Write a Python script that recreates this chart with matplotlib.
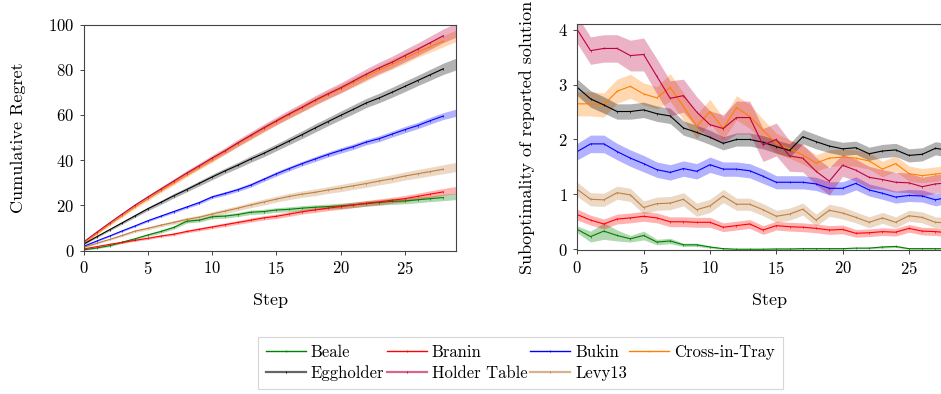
import numpy as np
import matplotlib
matplotlib.use("Agg")
import matplotlib.pyplot as plt
from matplotlib.lines import Line2D

plt.rcParams['font.family'] = ['cmr10', 'DejaVu Serif']
plt.rcParams['mathtext.fontset'] = 'cm'
plt.rcParams['axes.unicode_minus'] = False
plt.rcParams['axes.formatter.use_mathtext'] = True

steps = list(range(30))
series_names = ["Beale", "Branin", "Bukin", "Cross-in-Tray", "Eggholder", "Holder Table", "Levy13"]
series_colors = ["#008000", "#ff0000", "#0000ff", "#ff8000", "#000000", "#bf0040", "#bf8040"]

# ---- Cumulative regret (left) ----
regret_beale = [0.4, 1.2, 2.2, 3.8, 5.3, 7.0, 8.5, 10.3, 13.0, 13.5, 15.0, 15.3, 16.0, 17.0, 17.3, 18.0, 18.3, 18.8, 19.2, 19.5, 19.8, 20.3, 20.8, 21.3, 21.8, 22.0, 22.5, 23.0, 23.5, 24.0]
regret_branin = [0.8, 1.8, 2.8, 3.7, 4.6, 5.5, 6.5, 7.3, 8.5, 9.5, 10.5, 11.5, 12.5, 13.5, 14.5, 15.2, 16.2, 17.2, 18.0, 18.8, 19.5, 20.2, 21.0, 21.6, 22.3, 23.0, 24.0, 25.0, 26.0, 26.8]
regret_bukin = [2.0, 4.3, 6.5, 8.8, 11.0, 13.3, 15.3, 17.3, 19.3, 21.3, 23.8, 25.3, 27.0, 29.0, 31.5, 34.0, 36.3, 38.5, 40.5, 42.5, 44.3, 46.0, 48.0, 49.5, 51.5, 53.5, 55.3, 57.5, 59.5, 61.0]
regret_cross = [3.2, 7.5, 11.6, 15.5, 19.4, 23.0, 26.6, 30.0, 33.6, 37.0, 40.3, 43.8, 47.2, 50.5, 53.8, 57.0, 60.0, 63.0, 66.0, 68.8, 71.5, 74.3, 77.0, 79.8, 82.4, 85.0, 87.8, 90.2, 92.6, 95.0]
regret_egg = [3.0, 6.2, 9.3, 12.4, 15.5, 18.6, 21.4, 24.3, 27.0, 29.8, 32.6, 35.3, 37.8, 40.5, 43.0, 45.7, 48.5, 51.3, 54.2, 57.0, 59.8, 62.5, 65.3, 67.5, 70.0, 72.6, 75.2, 77.8, 80.4, 82.5]
regret_holder = [4.0, 8.2, 12.3, 16.3, 20.2, 23.8, 27.3, 30.8, 34.3, 37.6, 41.0, 44.2, 47.7, 51.0, 54.3, 57.4, 60.5, 63.4, 66.5, 69.3, 72.0, 75.0, 78.0, 80.8, 83.3, 86.2, 89.0, 92.0, 95.0, 97.5]
regret_levy = [1.5, 3.3, 5.0, 6.8, 8.7, 9.9, 11.3, 12.5, 13.8, 14.8, 16.2, 17.5, 18.8, 20.2, 21.5, 22.8, 24.0, 25.0, 25.8, 26.8, 27.7, 28.7, 29.7, 30.8, 31.8, 33.0, 34.0, 35.0, 36.0, 37.0]

regret_std_beale = [0.2, 0.3, 0.4, 0.5, 0.5, 0.6, 0.7, 0.7, 0.8, 0.8, 0.9, 0.9, 0.9, 1.0, 1.0, 1.0, 1.1, 1.1, 1.1, 1.1, 1.2, 1.2, 1.2, 1.2, 1.3, 1.3, 1.3, 1.3, 1.4, 1.4]
regret_std_branin = [0.2, 0.3, 0.3, 0.4, 0.4, 0.5, 0.5, 0.6, 0.6, 0.7, 0.7, 0.8, 0.8, 0.9, 0.9, 1.0, 1.0, 1.0, 1.1, 1.1, 1.2, 1.2, 1.2, 1.3, 1.3, 1.4, 1.4, 1.5, 1.5, 1.6]
regret_std_bukin = [0.2, 0.3, 0.3, 0.4, 0.4, 0.5, 0.5, 0.6, 0.6, 0.7, 0.7, 0.8, 0.8, 0.9, 0.9, 1.0, 1.0, 1.0, 1.1, 1.1, 1.2, 1.2, 1.2, 1.3, 1.3, 1.4, 1.4, 1.5, 1.5, 1.6]
regret_std_cross = [0.3, 0.4, 0.5, 0.6, 0.7, 0.8, 0.9, 1.0, 1.0, 1.1, 1.2, 1.2, 1.3, 1.4, 1.5, 1.5, 1.6, 1.7, 1.8, 1.8, 1.9, 2.0, 2.0, 2.1, 2.2, 2.3, 2.3, 2.4, 2.5, 2.6]
regret_std_egg = [0.3, 0.4, 0.5, 0.6, 0.7, 0.8, 0.9, 1.0, 1.0, 1.1, 1.2, 1.2, 1.3, 1.4, 1.5, 1.5, 1.6, 1.7, 1.8, 1.8, 1.9, 2.0, 2.0, 2.1, 2.2, 2.3, 2.3, 2.4, 2.5, 2.6]
regret_std_holder = [0.3, 0.4, 0.5, 0.6, 0.7, 0.8, 0.9, 1.0, 1.1, 1.2, 1.3, 1.4, 1.5, 1.6, 1.6, 1.7, 1.8, 1.9, 2.0, 2.1, 2.2, 2.3, 2.4, 2.5, 2.6, 2.7, 2.8, 2.9, 3.0, 3.1]
regret_std_levy = [0.2, 0.3, 0.4, 0.5, 0.6, 0.7, 0.7, 0.8, 0.9, 0.9, 1.0, 1.1, 1.1, 1.2, 1.3, 1.3, 1.4, 1.4, 1.5, 1.5, 1.6, 1.6, 1.7, 1.7, 1.8, 1.8, 1.9, 1.9, 2.0, 2.0]

# ---- Suboptimality of reported solution (right) ----
subopt_beale = [0.36, 0.23, 0.33, 0.25, 0.19, 0.25, 0.13, 0.15, 0.08, 0.08, 0.04, 0.01, 0.0, 0.0, 0.0, 0.005, 0.005, 0.01, 0.01, 0.01, 0.01, 0.02, 0.02, 0.04, 0.05, 0.01, 0.01, 0.01, 0.01, 0.01]
subopt_branin = [0.63, 0.53, 0.46, 0.55, 0.57, 0.6, 0.57, 0.5, 0.5, 0.49, 0.49, 0.4, 0.43, 0.46, 0.35, 0.43, 0.41, 0.4, 0.38, 0.35, 0.36, 0.29, 0.3, 0.32, 0.31, 0.38, 0.33, 0.32, 0.3, 0.3]
subopt_bukin = [1.78, 1.92, 1.92, 1.78, 1.66, 1.56, 1.45, 1.40, 1.47, 1.42, 1.54, 1.46, 1.46, 1.43, 1.33, 1.22, 1.22, 1.22, 1.19, 1.11, 1.11, 1.2, 1.08, 1.02, 0.95, 0.98, 0.97, 0.9, 0.95, 0.95]
subopt_cross = [2.65, 2.65, 2.63, 2.88, 2.97, 2.83, 2.76, 2.95, 2.6, 2.24, 2.51, 2.2, 2.58, 2.42, 2.17, 1.93, 1.83, 1.72, 1.57, 1.66, 1.68, 1.66, 1.61, 1.46, 1.56, 1.38, 1.34, 1.37, 1.4, 1.4]
subopt_egg = [2.95, 2.74, 2.63, 2.51, 2.51, 2.54, 2.47, 2.43, 2.21, 2.13, 2.04, 1.93, 2.0, 2.0, 1.95, 1.87, 1.8, 2.05, 1.96, 1.88, 1.83, 1.85, 1.74, 1.79, 1.81, 1.71, 1.73, 1.84, 1.8, 1.8]
subopt_holder = [4.0, 3.62, 3.66, 3.66, 3.53, 3.55, 3.15, 2.75, 2.80, 2.50, 2.27, 2.20, 2.40, 2.40, 1.90, 2.00, 1.70, 1.66, 1.42, 1.24, 1.53, 1.44, 1.31, 1.27, 1.22, 1.21, 1.14, 1.19, 1.21, 1.2]
subopt_levy = [1.09, 0.91, 0.9, 1.03, 0.99, 0.76, 0.83, 0.84, 0.91, 0.72, 0.79, 0.97, 0.82, 0.82, 0.72, 0.6, 0.64, 0.73, 0.53, 0.71, 0.66, 0.58, 0.49, 0.57, 0.49, 0.61, 0.58, 0.49, 0.48, 0.48]

subopt_std_beale = [0.06, 0.1, 0.15, 0.1, 0.06, 0.08, 0.05, 0.05, 0.03, 0.03, 0.02, 0.01, 0.01, 0.01, 0.01, 0.01, 0.01, 0.01, 0.01, 0.01, 0.01, 0.01, 0.01, 0.02, 0.02, 0.01, 0.01, 0.01, 0.01, 0.01]
subopt_std_branin = [0.1, 0.09, 0.09, 0.09, 0.09, 0.09, 0.09, 0.09, 0.09, 0.09, 0.09, 0.08, 0.08, 0.08, 0.08, 0.08, 0.08, 0.08, 0.08, 0.08, 0.08, 0.07, 0.07, 0.07, 0.07, 0.07, 0.07, 0.07, 0.07, 0.07]
subopt_std_bukin = [0.15, 0.16, 0.16, 0.15, 0.15, 0.15, 0.14, 0.14, 0.14, 0.14, 0.14, 0.13, 0.13, 0.13, 0.13, 0.12, 0.12, 0.12, 0.12, 0.12, 0.12, 0.12, 0.11, 0.11, 0.11, 0.11, 0.11, 0.11, 0.11, 0.11]
subopt_std_cross = [0.22, 0.22, 0.22, 0.22, 0.22, 0.2, 0.2, 0.25, 0.25, 0.22, 0.22, 0.2, 0.22, 0.22, 0.2, 0.18, 0.17, 0.17, 0.15, 0.15, 0.15, 0.15, 0.15, 0.14, 0.14, 0.14, 0.13, 0.13, 0.13, 0.13]
subopt_std_egg = [0.15, 0.15, 0.15, 0.14, 0.14, 0.14, 0.14, 0.14, 0.13, 0.13, 0.13, 0.12, 0.12, 0.12, 0.12, 0.12, 0.12, 0.13, 0.13, 0.12, 0.12, 0.12, 0.12, 0.12, 0.12, 0.12, 0.12, 0.12, 0.12, 0.12]
subopt_std_holder = [0.25, 0.25, 0.25, 0.25, 0.28, 0.3, 0.32, 0.32, 0.3, 0.28, 0.25, 0.25, 0.3, 0.3, 0.3, 0.3, 0.28, 0.25, 0.25, 0.25, 0.2, 0.2, 0.2, 0.18, 0.18, 0.18, 0.17, 0.17, 0.17, 0.17]
subopt_std_levy = [0.13, 0.12, 0.12, 0.12, 0.12, 0.12, 0.12, 0.12, 0.12, 0.12, 0.12, 0.12, 0.11, 0.11, 0.11, 0.11, 0.11, 0.11, 0.11, 0.11, 0.11, 0.1, 0.1, 0.1, 0.1, 0.1, 0.1, 0.1, 0.1, 0.1]

regret_means = [regret_beale, regret_branin, regret_bukin, regret_cross, regret_egg, regret_holder, regret_levy]
regret_stds = [regret_std_beale, regret_std_branin, regret_std_bukin, regret_std_cross, regret_std_egg, regret_std_holder, regret_std_levy]
subopt_means = [subopt_beale, subopt_branin, subopt_bukin, subopt_cross, subopt_egg, subopt_holder, subopt_levy]
subopt_stds = [subopt_std_beale, subopt_std_branin, subopt_std_bukin, subopt_std_cross, subopt_std_egg, subopt_std_holder, subopt_std_levy]

W, H = 941, 394
fig = plt.figure(figsize=(W / 100, H / 100), dpi=100)

def px_axes(l, t, r, b):
    return fig.add_axes([l / W, 1 - b / H, (r - l) / W, (b - t) / H])

ax1 = px_axes(84, 24.5, 456, 250.7)
ax2 = px_axes(577.3, 24.3, 962, 250.3)

def draw(ax, means, stds):
    x = np.array(steps)
    for m, s, c in zip(means, stds, series_colors):
        m = np.array(m); s = np.array(s)
        ax.fill_between(x, m - s, m + s, color=c, alpha=0.3, lw=0)
    for m, c in zip(means, series_colors):
        ax.plot(x[:-1], np.array(m)[:-1], color=c, lw=0.8, marker='|', ms=1.5, mew=0.5)

draw(ax1, regret_means, regret_stds)
draw(ax2, subopt_means, subopt_stds)

for ax in (ax1, ax2):
    ax.set_xlim(0, 29)
    ax.set_xticks([0, 5, 10, 15, 20, 25])
    for sp in ax.spines.values():
        sp.set_color('#444444')
        sp.set_linewidth(0.8)
    ax.tick_params(direction='out', length=3, width=0.7, color='#444444',
                   labelsize=12, pad=4, top=False, right=False)
    ax.set_xlabel("Step", fontsize=13, labelpad=11)

ax1.set_ylim(0, 100)
ax1.set_yticks([0, 20, 40, 60, 80, 100])
ax1.set_ylabel("Cumulative Regret", fontsize=13, labelpad=16)

ax2.set_ylim(-0.02, 4.1)
ax2.set_yticks([0, 1, 2, 3, 4])
ax2.set_ylabel("Suboptimality of reported solution", fontsize=13, labelpad=16)

handles = []
for i, c in enumerate(series_colors):
    if i >= 4:
        thick = Line2D([], [], color=c, lw=1.6, alpha=0.6)
        mark = Line2D([], [], color=c, lw=0, marker='|', ms=1.5, mew=0.6)
        handles.append((thick, mark))
    else:
        handles.append(Line2D([], [], color=c, lw=1.0, marker='|', ms=1.5, mew=0.5))

# matplotlib fills legend columns first; reorder so rows read like the reference
order = [0, 4, 1, 5, 2, 6, 3]
leg = fig.legend([handles[i] for i in order], [series_names[i] for i in order],
                 loc='center', bbox_to_anchor=(520.5 / W, 1 - 363 / H),
                 ncol=4, fontsize=12, frameon=True, fancybox=False, edgecolor='#cccccc',
                 handlelength=2.4, handletextpad=0.3, columnspacing=0.15,
                 borderpad=0.45, labelspacing=0.3, borderaxespad=0)
leg.get_frame().set_linewidth(0.8)

fig.savefig("out.png", dpi=100)
